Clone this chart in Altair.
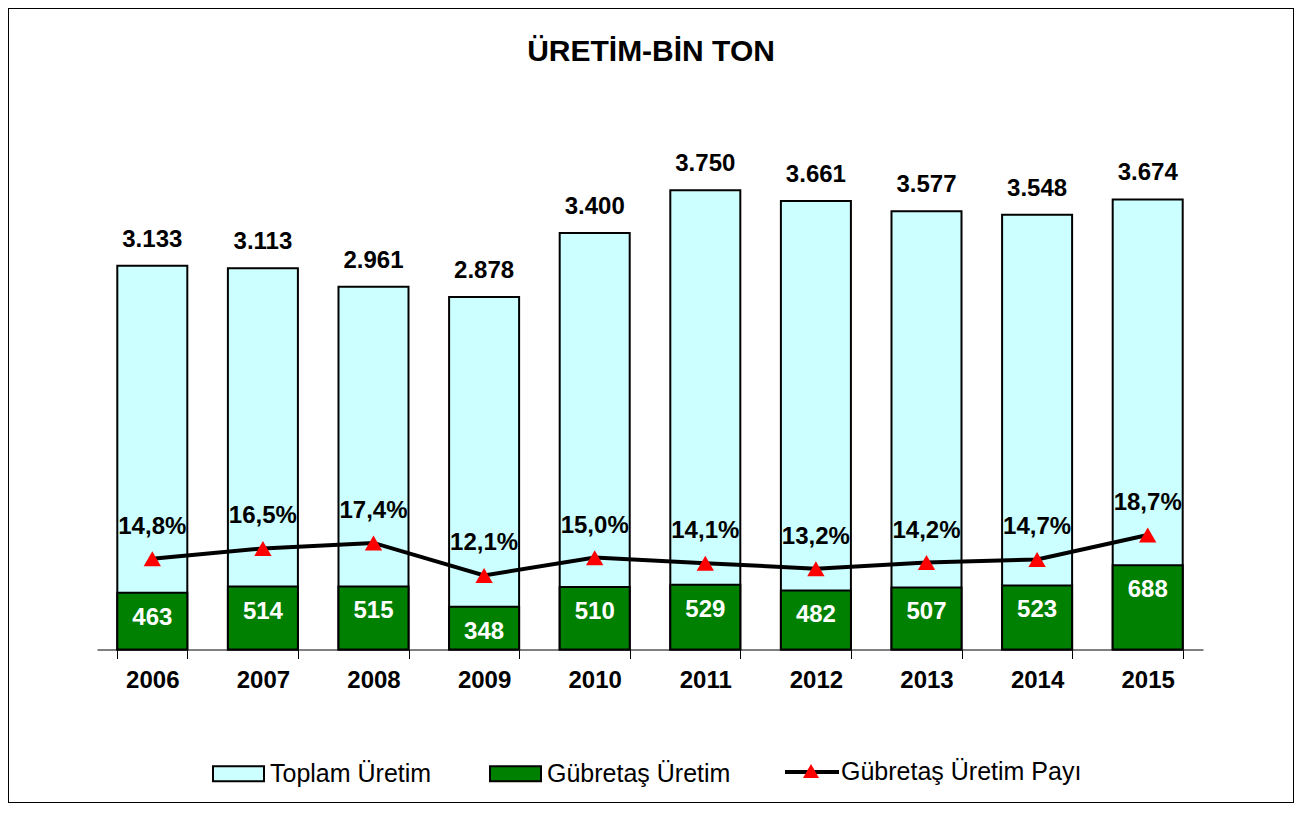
import altair as alt
import pandas as pd

years = ["2006", "2007", "2008", "2009", "2010", "2011", "2012", "2013", "2014", "2015"]
toplam = [3133, 3113, 2961, 2878, 3400, 3750, 3661, 3577, 3548, 3674]
gubretas = [463, 514, 515, 348, 510, 529, 482, 507, 523, 688]
pay = [14.8, 16.5, 17.4, 12.1, 15.0, 14.1, 13.2, 14.2, 14.7, 18.7]

S_TOP = "Toplam Üretim"
S_GUB = "Gübretaş Üretim"
S_PAY = "Gübretaş Üretim Payı"

df = pd.DataFrame({"yil": years, "toplam": toplam, "gub": gubretas, "pay": pay})
df["toplam_lbl"] = [f"{v:,}".replace(",", ".") for v in toplam]
df["gub_lbl"] = [str(v) for v in gubretas]
df["pay_lbl"] = [f"{v:.1f}".replace(".", ",") + "%" for v in pay]
df["s_top"] = S_TOP
df["s_gub"] = S_GUB
df["s_pay"] = S_PAY
df["s_mark"] = "marker"

FONT = "Liberation Sans"
W, H = 1286, 795
Y0, YTOP = 641.5, 151.5

xenc = alt.X("yil:N", sort=years,
             scale=alt.Scale(range=[89, 1195], paddingInner=0.367, paddingOuter=0.1835),
             axis=alt.Axis(title=None, labelAngle=0, labelFont=FONT, labelFontSize=24,
                           labelFontWeight="bold", labelColor="black", labelPadding=10,
                           tickBand="extent", tickSize=9, tickColor="black", tickWidth=1,
                           domainColor="black", domainWidth=1, offset=-(H - Y0)))

yscale = alt.Scale(domain=[0, 4000], range=[Y0, YTOP], nice=False, zero=True)
fill_scale = alt.Scale(domain=[S_TOP, S_GUB], range=["#CCFFFF", "#008000"])
fill_legend = alt.Legend(orient="none", legendX=204, legendY=739, title=None,
                         direction="horizontal", labelFont=FONT, labelFontSize=25,
                         labelColor="black", labelOffset=5, columnPadding=54,
                         symbolType="M-1,-0.294H1V0.294H-1Z", symbolSize=2601,
                         symbolStrokeColor="black", symbolStrokeWidth=2,
                         padding=0, rowPadding=0, labelLimit=400)

base = alt.Chart(df)

bar_top = base.mark_bar(stroke="black", strokeWidth=2).encode(
    x=xenc,
    y=alt.Y("toplam:Q", scale=yscale, axis=None),
    fill=alt.Fill("s_top:N", scale=fill_scale, legend=fill_legend, title=None),
)
bar_gub = base.mark_bar(stroke="black", strokeWidth=2).encode(
    x=xenc,
    y=alt.Y("gub:Q", scale=yscale, axis=None),
    fill=alt.Fill("s_gub:N", scale=fill_scale, legend=fill_legend, title=None),
)
txt_top = base.mark_text(font=FONT, fontSize=24, fontWeight="bold", color="black",
                         baseline="middle", dy=-26).encode(
    x=xenc, y=alt.Y("toplam:Q", scale=yscale, axis=None), text="toplam_lbl:N")
txt_gub = base.mark_text(font=FONT, fontSize=24, fontWeight="bold", color="white",
                         baseline="middle", dy=25).encode(
    x=xenc, y=alt.Y("gub:Q", scale=yscale, axis=None), text="gub_lbl:N")

bars = alt.layer(bar_top, bar_gub, txt_top, txt_gub)

pscale = alt.Scale(domain=[0, 80], range=[Y0, YTOP], nice=False, zero=True)

line = base.mark_line(strokeWidth=4).encode(
    x=xenc,
    y=alt.Y("pay:Q", scale=pscale, axis=None),
    stroke=alt.Stroke("s_pay:N", scale=alt.Scale(domain=[S_PAY], range=["black"]), title=None,
                      legend=alt.Legend(orient="none", legendX=775, legendY=735, title=None,
                                        labelFont=FONT, labelFontSize=25, labelColor="black",
                                        labelOffset=0, symbolType="M-1,0H1", symbolSize=2916,
                                        symbolStrokeWidth=4, symbolStrokeColor="black",
                                        padding=0, labelLimit=400)),
)
pts = base.mark_point(filled=True, color="red", size=300, opacity=1).encode(
    x=xenc,
    y=alt.Y("pay:Q", scale=pscale, axis=None),
    shape=alt.Shape("s_mark:N", scale=alt.Scale(domain=["marker"], range=["triangle-up"]),
                    title=None,
                    legend=alt.Legend(orient="none", legendX=795, legendY=755, title=None,
                                      labelExpr="''", labelFontSize=1, symbolSize=256,
                                      symbolFillColor="red", symbolStrokeWidth=0,
                                      symbolOpacity=1, padding=0)),
)
txt_pay = base.mark_text(font=FONT, fontSize=24, fontWeight="bold", color="black",
                         baseline="middle", dy=-32).encode(
    x=xenc, y=alt.Y("pay:Q", scale=pscale, axis=None), text="pay_lbl:N")

lines = alt.layer(line, pts, txt_pay)

chart = alt.layer(bars, lines).resolve_scale(y="independent").properties(
    width=W, height=H, padding=0, autosize=alt.AutoSizeParams(type="none"),
    title=alt.Title("ÜRETİM-BİN TON", font=FONT, fontSize=30, fontWeight="bold",
                    color="black", anchor="middle", frame="group", offset=0,
                    baseline="alphabetic", dy=83),
).configure(background="white").configure_view(stroke="black", strokeWidth=2)

chart.save("out.html", embed_options={"renderer": "svg", "actions": False})
